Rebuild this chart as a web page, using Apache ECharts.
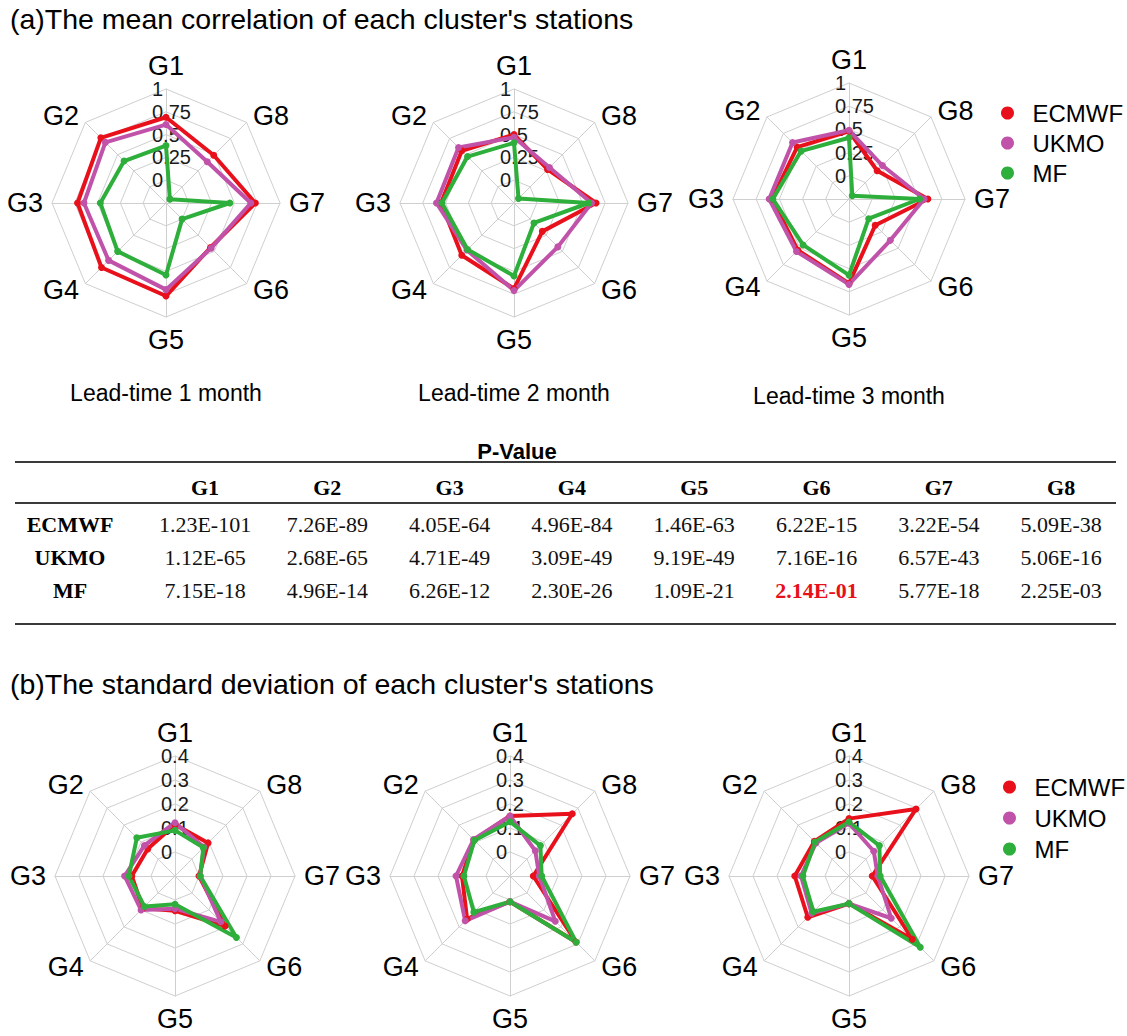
<!DOCTYPE html>
<html>
<head>
<meta charset="utf-8">
<script src="https://cdn.jsdelivr.net/npm/echarts@6/dist/echarts.min.js"></script>
<style>
html,body{margin:0;padding:0;background:#ffffff;}
#chart{width:1127px;height:1036px;}
</style>
</head>
<body>
<div id="chart"></div>
<script>
// ---------------- data ----------------
const groups = ['G1', 'G2', 'G3', 'G4', 'G5', 'G6', 'G7', 'G8'];
const models = ['ECMWF', 'UKMO', 'MF'];

// (a) mean correlation, lead-time 1..3 months
const corrL1_ECMWF = [0.69, 0.76, 0.72, 0.75, 0.77, 0.44, 0.73, 0.49];
const corrL1_UKMO  = [0.61, 0.69, 0.65, 0.64, 0.70, 0.45, 0.68, 0.39];
const corrL1_MF    = [0.38, 0.40, 0.47, 0.50, 0.54, 0.00, 0.45, -0.19];

const corrL2_ECMWF = [0.50, 0.56, 0.55, 0.56, 0.69, 0.19, 0.65, 0.27];
const corrL2_UKMO  = [0.47, 0.61, 0.60, 0.48, 0.71, 0.43, 0.60, 0.30];
const corrL2_MF    = [0.41, 0.47, 0.54, 0.47, 0.55, 0.06, 0.57, -0.18];

const corrL3_ECMWF = [0.48, 0.54, 0.58, 0.53, 0.66, 0.15, 0.60, 0.18];
const corrL3_UKMO  = [0.49, 0.61, 0.61, 0.55, 0.67, 0.38, 0.56, 0.26];
const corrL3_MF    = [0.41, 0.48, 0.57, 0.45, 0.57, 0.05, 0.51, -0.20];

// (b) standard deviation, lead-time 1..3 months
const sdL1_ECMWF = [0.115, 0.060, 0.080, 0.090, 0.045, 0.195, 0.000, 0.095];
const sdL1_UKMO  = [0.122, 0.080, 0.110, 0.100, 0.036, 0.170, 0.005, 0.070];
const sdL1_MF    = [0.090, 0.125, 0.092, 0.080, 0.018, 0.262, 0.005, 0.067];

const sdL2_ECMWF = [0.150, 0.112, 0.100, 0.153, 0.007, 0.289, -0.003, 0.267];
const sdL2_UKMO  = [0.150, 0.115, 0.125, 0.164, 0.007, 0.167, 0.022, 0.049];
const sdL2_MF    = [0.126, 0.110, 0.092, 0.113, 0.007, 0.290, 0.032, 0.079];

const sdL3_ECMWF = [0.139, 0.104, 0.126, 0.143, 0.015, 0.273, -0.003, 0.295];
const sdL3_UKMO  = [0.120, 0.095, 0.100, 0.120, 0.015, 0.149, 0.020, 0.046];
const sdL3_MF    = [0.125, 0.100, 0.092, 0.110, 0.015, 0.320, 0.030, 0.079];

// axis ranges (centre of the web sits one step below the lowest labelled ring)
const corrAxis = [-0.25, 1];
const sdAxis = [-0.1, 0.4];

// P-value table
const pECMWF = ['1.23E-101', '7.26E-89', '4.05E-64', '4.96E-84', '1.46E-63', '6.22E-15', '3.22E-54', '5.09E-38'];
const pUKMO  = ['1.12E-65', '2.68E-65', '4.71E-49', '3.09E-49', '9.19E-49', '7.16E-16', '6.57E-43', '5.06E-16'];
const pMF    = ['7.15E-18', '4.96E-14', '6.26E-12', '2.30E-26', '1.09E-21', '2.14E-01', '5.77E-18', '2.25E-03'];

const leadLabels = ['Lead-time 1 month', 'Lead-time 2 month', 'Lead-time 3 month'];
const titleA = "(a)The mean correlation of each cluster's stations";
const titleB = "(b)The standard deviation of each cluster's stations";

// ---------------- styles / layout ----------------
const colors = { ECMWF: '#e8111b', UKMO: '#c053a9', MF: '#2eae3b' };
const SANS = "'Liberation Sans', Arial, sans-serif";
const SERIF = "'Liberation Serif', 'Times New Roman', serif";

const radarLayoutA = [
  { center: [166, 203], radius: 114 },
  { center: [514, 203], radius: 114 },
  { center: [849, 199], radius: 116 }
];
const radarLayoutB = [
  { center: [175, 876], radius: 120 },
  { center: [510, 876], radius: 120 },
  { center: [849, 876], radius: 120 }
];
const leadLabelY = [393, 393, 396];

function makeRadar(layout, range) {
  return {
    center: layout.center,
    radius: layout.radius,
    startAngle: 90,
    shape: 'polygon',
    splitNumber: 5,
    indicator: groups.map(function (g, i) {
      const ind = { name: g, min: range[0], max: range[1] };
      if (i === 0) ind.axisLabel = { show: true };
      return ind;
    }),
    axisName: { color: '#000', fontSize: 27, fontFamily: SANS },
    nameGap: 9,
    splitLine: { lineStyle: { color: '#cfcfcf', width: 1 } },
    splitArea: { show: false },
    axisLine: { lineStyle: { color: '#cfcfcf', width: 1 } },
    axisTick: { show: false },
    axisLabel: {
      show: false,
      color: '#1a1a1a',
      fontSize: 20,
      fontFamily: SANS,
      margin: 14,
      align: 'left',
      verticalAlign: 'middle',
      showMinLabel: true,
      showMaxLabel: true,
      hideOverlap: false,
      formatter: function (v) {
        if (v < -1e-9) return '';
        return String(Math.round(v * 100) / 100);
      }
    }
  };
}

const radars = []
  .concat(radarLayoutA.map(l => makeRadar(l, corrAxis)))
  .concat(radarLayoutB.map(l => makeRadar(l, sdAxis)));

const seriesData = [
  [corrL1_ECMWF, corrL1_UKMO, corrL1_MF],
  [corrL2_ECMWF, corrL2_UKMO, corrL2_MF],
  [corrL3_ECMWF, corrL3_UKMO, corrL3_MF],
  [sdL1_ECMWF, sdL1_UKMO, sdL1_MF],
  [sdL2_ECMWF, sdL2_UKMO, sdL2_MF],
  [sdL3_ECMWF, sdL3_UKMO, sdL3_MF]
];

const series = seriesData.map(function (trio, k) {
  return {
    type: 'radar',
    radarIndex: k,
    symbol: 'circle',
    symbolSize: 7,
    silent: true,
    data: trio.map(function (vals, j) {
      const c = colors[models[j]];
      return {
        name: models[j],
        value: vals,
        itemStyle: { color: c },
        lineStyle: { color: c, width: 4 }
      };
    })
  };
});

function makeLegend(left, top, gap) {
  return {
    orient: 'vertical',
    left: left,
    top: top,
    data: models,
    icon: 'circle',
    itemWidth: 40,
    itemHeight: 13,
    itemGap: gap,
    padding: 0,
    selectedMode: false,
    textStyle: { fontSize: 24, lineHeight: 24, fontFamily: SANS, color: '#000' }
  };
}

// ---------------- graphic texts (titles, sub-captions, table) ----------------
const graphics = [];
function txt(text, x, y, opts) {
  graphics.push({
    type: 'text', x: x, y: y, silent: true,
    style: Object.assign({ text: text, fill: '#000', align: 'center', verticalAlign: 'middle' }, opts || {})
  });
}
function rule(y, x1, x2) {
  graphics.push({
    type: 'line', silent: true,
    shape: { x1: x1, y1: y, x2: x2, y2: y },
    style: { stroke: '#3a3a3a', lineWidth: 2 }
  });
}

txt(titleA, 10, 19, { align: 'left', font: '28.5px ' + SANS });
txt(titleB, 10, 684, { align: 'left', font: '28.5px ' + SANS });
leadLabels.forEach(function (t, i) {
  txt(t, radarLayoutA[i].center[0], leadLabelY[i], { font: '23px ' + SANS });
});

// table layout
const tblLeft = 15, tblRight = 1116;
const colX0 = 205, colStep = 122.3, rowLabelX = 70;
const yPTitle = 451, yTop = 462, yHead = 487, yMid = 503, yRow0 = 524, rowStep = 33, yBottom = 624;
txt('P-Value', 517, yPTitle, { font: 'bold 22px ' + SANS });
rule(yTop, tblLeft, tblRight);
rule(yMid, tblLeft, tblRight);
rule(yBottom, tblLeft, tblRight);
groups.forEach(function (g, i) {
  txt(g, colX0 + i * colStep, yHead, { font: 'bold 22px ' + SERIF });
});
[pECMWF, pUKMO, pMF].forEach(function (row, r) {
  const y = yRow0 + r * rowStep;
  txt(models[r], rowLabelX, y, { font: 'bold 22px ' + SERIF });
  row.forEach(function (p, i) {
    const notSig = parseFloat(p) > 0.05;
    txt(p, colX0 + i * colStep, y, {
      font: (notSig ? 'bold ' : '') + '22px ' + SERIF,
      fill: notSig ? '#e8111b' : '#111'
    });
  });
});

const chart = echarts.init(document.getElementById('chart'), null, { renderer: 'svg' });
chart.setOption({
  backgroundColor: '#ffffff',
  animation: false,
  legend: [makeLegend(1001, 101, 6), makeLegend(1003, 775, 7)],
  radar: radars,
  series: series,
  graphic: graphics
});
</script>
</body>
</html>
